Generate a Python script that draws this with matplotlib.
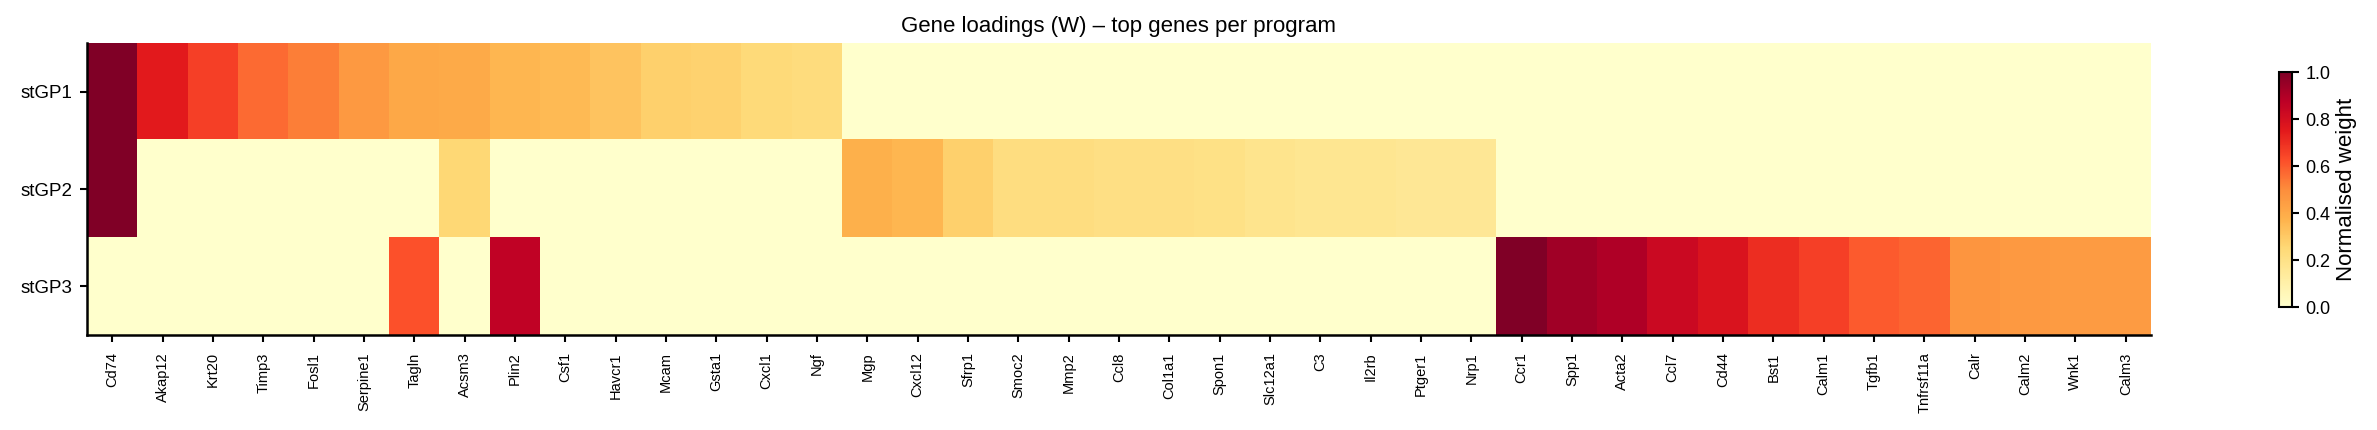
import numpy as np
import matplotlib
matplotlib.use('Agg')
import matplotlib.pyplot as plt

plt.rcParams['font.family'] = ['Liberation Sans', 'DejaVu Sans']

genes = ['Cd74', 'Akap12', 'Krt20', 'Timp3', 'Fosl1', 'Serpine1', 'Tagln', 'Acsm3',
         'Plin2', 'Csf1', 'Havcr1', 'Mcam', 'Gsta1', 'Cxcl1', 'Ngf', 'Mgp', 'Cxcl12',
         'Sfrp1', 'Smoc2', 'Mmp2', 'Ccl8', 'Col1a1', 'Spon1', 'Slc12a1', 'C3', 'Il2rb',
         'Ptger1', 'Nrp1', 'Ccr1', 'Spp1', 'Acta2', 'Ccl7', 'Cd44', 'Bst1', 'Calm1',
         'Tgfb1', 'Tnfrsf11a', 'Calr', 'Calm2', 'Wnk1', 'Calm3']
programs = ['stGP1', 'stGP2', 'stGP3']

# normalised weights (0 where gene is not loaded)
stgp1 = [1.0, 0.75, 0.66, 0.57, 0.53, 0.46, 0.41, 0.40, 0.36, 0.35, 0.32, 0.28, 0.27,
         0.24, 0.23, 0, 0, 0, 0, 0, 0, 0, 0, 0, 0, 0, 0, 0, 0, 0, 0, 0, 0, 0, 0, 0, 0,
         0, 0, 0, 0]
stgp2 = [1.0, 0, 0, 0, 0, 0, 0, 0.25, 0, 0, 0, 0, 0, 0, 0, 0.38, 0.36, 0.28, 0.22,
         0.22, 0.21, 0.21, 0.20, 0.18, 0.17, 0.17, 0.16, 0.16, 0, 0, 0, 0, 0, 0, 0, 0,
         0, 0, 0, 0, 0]
stgp3 = [0, 0, 0, 0, 0, 0, 0.62, 0, 0.86, 0, 0, 0, 0, 0, 0, 0, 0, 0, 0, 0, 0, 0, 0,
         0, 0, 0, 0, 0, 1.0, 0.93, 0.90, 0.83, 0.78, 0.70, 0.66, 0.60, 0.58, 0.47,
         0.46, 0.45, 0.45]

W = np.array([stgp1, stgp2, stgp3])

fig = plt.figure(figsize=(23.77, 4.3), dpi=100)
ax = fig.add_axes([0.0366, 0.2209, 0.8683, 0.6791])
im = ax.imshow(W, aspect='auto', cmap='YlOrRd', vmin=0, vmax=1, interpolation='nearest')

ax.set_xticks(np.arange(len(genes)))
ax.set_xticklabels(genes, rotation=90, fontsize=10.5)
ax.set_yticks(np.arange(len(programs)))
ax.set_yticklabels(programs, fontsize=13.5)
ax.set_title('Gene loadings (W) – top genes per program', fontsize=16, pad=8)
for s in ['top', 'right']:
    ax.spines[s].set_visible(False)
for s in ['left', 'bottom']:
    ax.spines[s].set_linewidth(1.8)
ax.tick_params(axis='x', width=1.5, length=5, pad=7.5)
ax.tick_params(axis='y', width=1.5, length=5, pad=5.5)

cax = fig.add_axes([0.9588, 0.286, 0.0055, 0.5465])
cb = fig.colorbar(im, cax=cax)
cb.set_label('Normalised weight', fontsize=16)
cb.ax.tick_params(labelsize=13, width=1.5, length=5, pad=4.5)
cb.outline.set_linewidth(1.5)

fig.savefig('out.png', dpi=100)
